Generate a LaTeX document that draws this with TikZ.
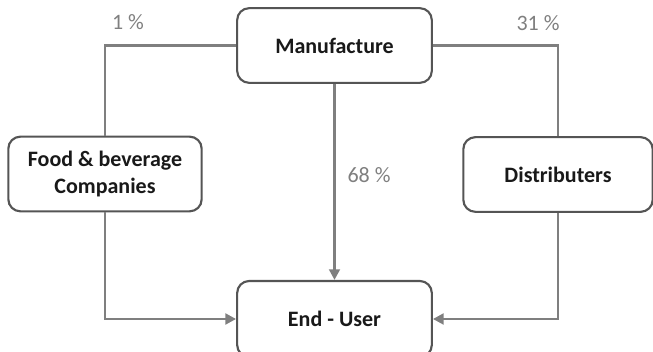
\documentclass[tikz,border=0pt]{standalone}
\usepackage{fontspec}
\setmainfont{Carlito}
\usepackage{tikz}
\usetikzlibrary{arrows.meta}

\definecolor{linegray}{HTML}{7F7F7F}
\definecolor{boxgray}{HTML}{555555}

\begin{document}
\begin{tikzpicture}[x=0.75pt, y=-0.75pt,
    box/.style={draw=boxgray, line width=1.6pt, rounded corners=9pt, fill=white,
      minimum width=146pt, minimum height=56pt, align=center,
      font=\fontsize{16.5}{20.5}\selectfont\bfseries, text=black!90},
    link/.style={draw=linegray, line width=2.2pt},
    arr/.style={link, -{Triangle[length=8pt, width=8pt]}},
    pct/.style={text=linegray, font=\fontsize{16.5}{20}\selectfont}]
      \useasboundingbox (0,0) rectangle (653,352);

      \node[box] (manu) at (334.5,45.5) {Manufacture};
      \node[box, minimum width=145pt] (food) at (105,174) {Food \& beverage\\Companies};
      \node[box, minimum width=142pt] (dist) at (558,174.5) {Distributers};
      \node[box, minimum height=57pt] (user) at (334.5,319) {End - User};

      \draw[link] (manu.west) -| (food.north);
      \draw[link] (manu.east) -| (dist.north);
      \draw[arr] (manu.south) -- (user.north);
      \draw[arr] (food.south) |- (user.west);
      \draw[arr] (dist.south) |- (user.east);

      \node[pct] (p1) at (128,22) {1 \%};
      \node[pct] (p31) at (538,23) {31 \%};
      \node[pct] (p68) at (369,175) {68 \%};
    \end{tikzpicture}
\end{document}
